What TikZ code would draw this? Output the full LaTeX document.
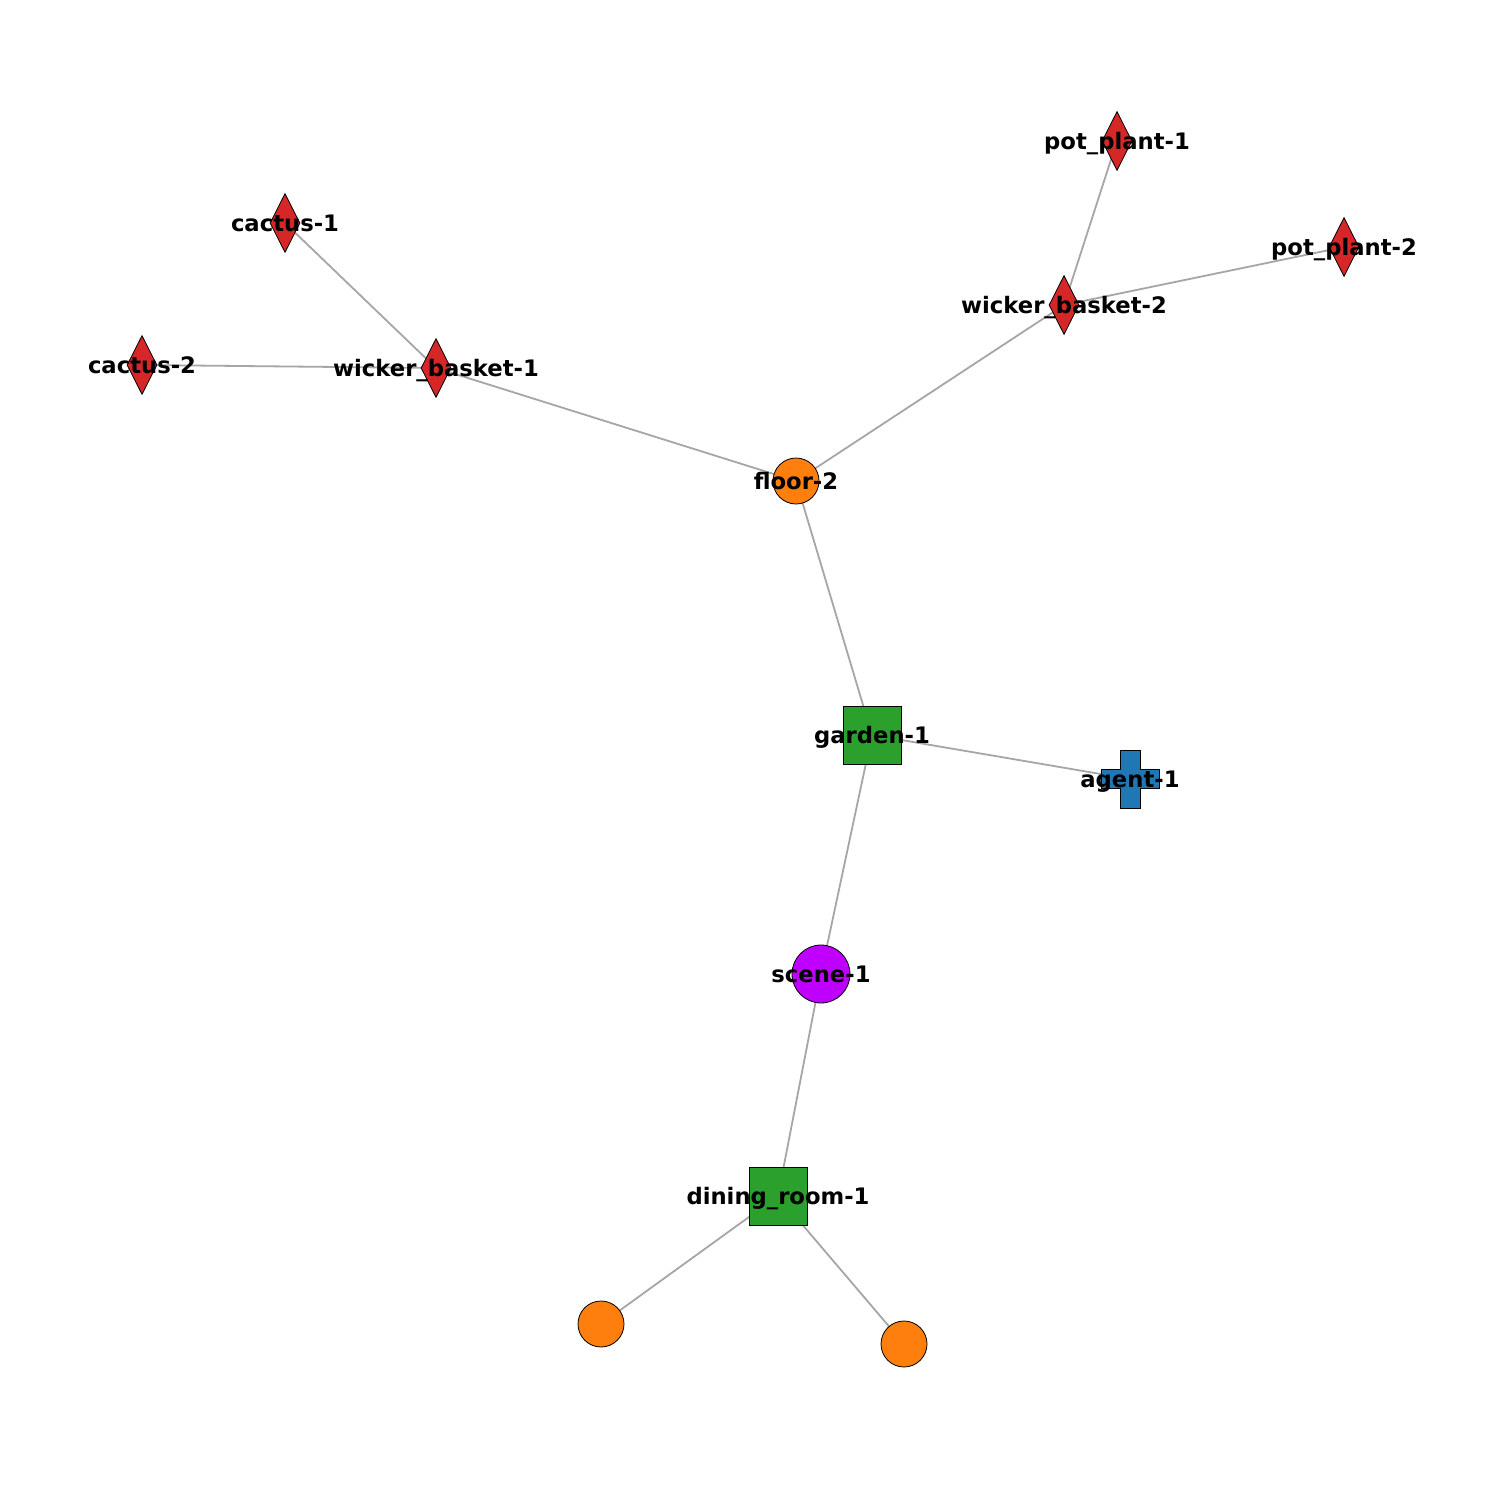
\documentclass[tikz,border=0pt]{standalone}
\usepackage{fontspec}
\setmainfont{DejaVu Sans}
\usetikzlibrary{shapes.geometric,backgrounds}
\pgfdeclarelayer{paper}
\pgfsetlayers{paper,background,main}
\definecolor{cred}{HTML}{D62728}
\definecolor{corange}{HTML}{FF7F0E}
\definecolor{cgreen}{HTML}{2CA02C}
\definecolor{cblue}{HTML}{1F77B4}
\definecolor{cpurple}{HTML}{BF00FF}
\definecolor{cedge}{HTML}{A6A6A6}
\tikzset{
  lbl/.style={font=\fontsize{22.7}{26}\selectfont\bfseries, text=black, inner sep=0pt, text height=0.76em, text depth=0.21em, yshift=-6pt},
  dia/.style={diamond, draw=black, line width=0.8pt, fill=cred, minimum width=30pt, minimum height=59pt, inner sep=0pt, aspect=0.5},
  circ/.style={circle, draw=black, line width=0.8pt, fill=corange, minimum size=46pt, inner sep=0pt},
  bigcirc/.style={circle, draw=black, line width=0.8pt, fill=cpurple, minimum size=58pt, inner sep=0pt},
  sq/.style={rectangle, draw=black, line width=0.8pt, fill=cgreen, minimum size=58pt, inner sep=0pt},
  hidden/.style={rectangle, minimum size=58pt, inner sep=0pt},
  edge/.style={draw=cedge, line width=1.8pt},
}
\begin{document}
\begin{tikzpicture}[x=1pt,y=-1pt]
\begin{pgfonlayer}{paper}
\fill[white] (0,0) rectangle (1485,1485);
\end{pgfonlayer}
\useasboundingbox (0,0) rectangle (1485,1485);
% nodes
\node[dia, label={[lbl]center:pot\_plant-1}] (pp1) at (1117,141) {};
\node[dia, label={[lbl]center:pot\_plant-2}] (pp2) at (1344,247) {};
\node[dia, label={[lbl]center:wicker\_basket-2}] (wb2) at (1064,305) {};
\node[dia, label={[lbl]center:cactus-1}] (c1) at (285,223) {};
\node[dia, label={[lbl]center:cactus-2}] (c2) at (142,365) {};
\node[dia, label={[lbl]center:wicker\_basket-1}] (wb1) at (436,368) {};
\node[circ, label={[lbl]center:floor-2}] (f2) at (796,481) {};
\node[sq, label={[lbl]center:garden-1}] (g1) at (872,735) {};
\node[hidden] (a1) at (1130,779) {};
\draw[fill=cblue, draw=black, line width=0.8pt]
  ([shift={(-10,-29)}]a1.center) -- ++(20,0) -- ++(0,19.5) -- ++(19,0) -- ++(0,19) -- ++(-19,0)
  -- ++(0,19.5) -- ++(-20,0) -- ++(0,-19.5) -- ++(-19,0) -- ++(0,-19) -- ++(19,0) -- cycle;
\node[lbl] at (a1.center) {agent-1};
\node[bigcirc, label={[lbl]center:scene-1}] (s1) at (821,974) {};
\node[sq, label={[lbl]center:dining\_room-1}] (d1) at (778,1196) {};
\node[circ] (o1) at (601,1324) {};
\node[circ] (o2) at (904,1344) {};
% edges
\begin{scope}[on background layer]
\draw[edge] (wb1.center) -- (c1.center);
\draw[edge] (wb1.center) -- (c2.center);
\draw[edge] (wb1.center) -- (f2.center);
\draw[edge] (f2.center) -- (wb2.center);
\draw[edge] (wb2.center) -- (pp1.center);
\draw[edge] (wb2.center) -- (pp2.center);
\draw[edge] (f2.center) -- (g1.center);
\draw[edge] (g1.center) -- (a1.center);
\draw[edge] (g1.center) -- (s1.center);
\draw[edge] (s1.center) -- (d1.center);
\draw[edge] (d1.center) -- (o1.center);
\draw[edge] (d1.center) -- (o2.center);
\end{scope}
\end{tikzpicture}
\end{document}
